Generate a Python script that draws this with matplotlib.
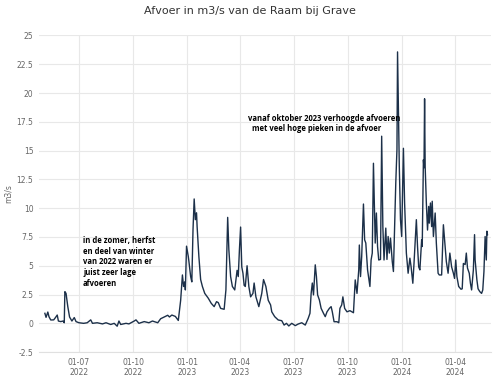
import pandas as pd
import matplotlib
matplotlib.use("Agg")
from matplotlib import pyplot as plt
import matplotlib.dates as mdates

# afvoer van de Raam bij Grave (m3/s)
datums = [
    "2022-05-04", "2022-05-06", "2022-05-09", "2022-05-11", "2022-05-14", "2022-05-19",
    "2022-05-22", "2022-05-25", "2022-05-27", "2022-05-31", "2022-06-04", "2022-06-06",
    "2022-06-07", "2022-06-09", "2022-06-12", "2022-06-15", "2022-06-19", "2022-06-23",
    "2022-06-26", "2022-07-01", "2022-07-09", "2022-07-15", "2022-07-21", "2022-07-24",
    "2022-08-01", "2022-08-10", "2022-08-16", "2022-08-24", "2022-08-30", "2022-09-04",
    "2022-09-07", "2022-09-10", "2022-09-19", "2022-09-24", "2022-10-03", "2022-10-06",
    "2022-10-11", "2022-10-20", "2022-10-28", "2022-11-03", "2022-11-12", "2022-11-17",
    "2022-11-23", "2022-11-29", "2022-12-02", "2022-12-06", "2022-12-12", "2022-12-17",
    "2022-12-21", "2022-12-24", "2022-12-26", "2022-12-28", "2022-12-29", "2022-12-31",
    "2023-01-03", "2023-01-04", "2023-01-07", "2023-01-09", "2023-01-11", "2023-01-13",
    "2023-01-15", "2023-01-17", "2023-01-18", "2023-01-21", "2023-01-24", "2023-01-27",
    "2023-01-31", "2023-02-06", "2023-02-11", "2023-02-16", "2023-02-20", "2023-02-23",
    "2023-02-27", "2023-03-05", "2023-03-08", "2023-03-11", "2023-03-13", "2023-03-16",
    "2023-03-19", "2023-03-23", "2023-03-27", "2023-03-29", "2023-03-31", "2023-04-02",
    "2023-04-04", "2023-04-06", "2023-04-08", "2023-04-10", "2023-04-13", "2023-04-16",
    "2023-04-19", "2023-04-23", "2023-04-25", "2023-04-28", "2023-05-03", "2023-05-08",
    "2023-05-11", "2023-05-15", "2023-05-19", "2023-05-23", "2023-05-25", "2023-05-30",
    "2023-06-05", "2023-06-11", "2023-06-15", "2023-06-19", "2023-06-23", "2023-06-28",
    "2023-07-04", "2023-07-09", "2023-07-15", "2023-07-21", "2023-07-26", "2023-07-29",
    "2023-07-31", "2023-08-02", "2023-08-04", "2023-08-07", "2023-08-09", "2023-08-11",
    "2023-08-14", "2023-08-17", "2023-08-21", "2023-08-24", "2023-08-27", "2023-08-31",
    "2023-09-03", "2023-09-05", "2023-09-08", "2023-09-13", "2023-09-16", "2023-09-18",
    "2023-09-21", "2023-09-23", "2023-09-26", "2023-09-30", "2023-10-05", "2023-10-11",
    "2023-10-14", "2023-10-17", "2023-10-20", "2023-10-21", "2023-10-23", "2023-10-25",
    "2023-10-28", "2023-10-30", "2023-11-01", "2023-11-04", "2023-11-08", "2023-11-10",
    "2023-11-12", "2023-11-14", "2023-11-17", "2023-11-19", "2023-11-21", "2023-11-23",
    "2023-11-26", "2023-11-28", "2023-11-30", "2023-12-02", "2023-12-05", "2023-12-07",
    "2023-12-09", "2023-12-11", "2023-12-13", "2023-12-16", "2023-12-18", "2023-12-20",
    "2023-12-22", "2023-12-24", "2023-12-25", "2023-12-28", "2023-12-30", "2024-01-01",
    "2024-01-04", "2024-01-06", "2024-01-09", "2024-01-12", "2024-01-15", "2024-01-17",
    "2024-01-20", "2024-01-22", "2024-01-26", "2024-01-28", "2024-01-30", "2024-02-01",
    "2024-02-04", "2024-02-05", "2024-02-07", "2024-02-08", "2024-02-09", "2024-02-10",
    "2024-02-12", "2024-02-14", "2024-02-16", "2024-02-17", "2024-02-19", "2024-02-21",
    "2024-02-22", "2024-02-24", "2024-02-27", "2024-02-29", "2024-03-03", "2024-03-05",
    "2024-03-09", "2024-03-12", "2024-03-14", "2024-03-17", "2024-03-20", "2024-03-23",
    "2024-03-26", "2024-03-29", "2024-03-31", "2024-04-02", "2024-04-04", "2024-04-07",
    "2024-04-11", "2024-04-13", "2024-04-15", "2024-04-18", "2024-04-20", "2024-04-22",
    "2024-04-25", "2024-04-27", "2024-04-29", "2024-05-02", "2024-05-04", "2024-05-05",
    "2024-05-08", "2024-05-10", "2024-05-13", "2024-05-16", "2024-05-18", "2024-05-20",
    "2024-05-22", "2024-05-24", "2024-05-25", "2024-05-26",
]
afvoer = [
    0.87, 0.52, 0.98, 0.57, 0.29, 0.30,
    0.50, 0.72, 0.20, 0.15, 0.20, 0.05,
    2.75, 2.60, 1.45, 0.55, 0.20, 0.50,
    0.15, 0.05, 0.00, 0.05, 0.30, 0.00,
    0.05, -0.05, 0.05, -0.10, 0.00, -0.25,
    0.20, -0.10, 0.00, -0.05, 0.20, 0.30,
    0.00, 0.15, 0.05, 0.20, 0.05, 0.40,
    0.55, 0.70, 0.55, 0.72, 0.60, 0.25,
    2.00, 4.20, 3.20, 3.60, 2.90, 6.70,
    5.80, 5.40, 4.06, 3.60, 8.10, 10.80,
    9.00, 9.60, 8.40, 5.80, 3.80, 3.20,
    2.60, 2.18, 1.74, 1.45, 1.88, 1.80,
    1.30, 1.22, 2.90, 9.20, 6.40, 4.06,
    3.20, 2.90, 4.60, 4.06, 6.40, 8.36,
    4.90, 4.35, 3.30, 3.20, 5.00, 3.20,
    2.30, 2.60, 3.50, 2.30, 1.45, 2.60,
    3.80, 3.20, 2.00, 1.60, 1.00, 0.58,
    0.29, 0.23, -0.15, 0.00, -0.23, 0.00,
    -0.20, -0.06, 0.05, -0.15, 0.43, 0.87,
    2.60, 3.50, 2.47, 5.08, 4.06, 2.47,
    2.03, 1.30, 0.87, 0.58, 1.00, 1.30,
    1.45, 1.00, 0.14, 0.14, 0.05, 1.30,
    1.60, 2.30, 1.30, 1.00, 1.10, 0.92,
    3.77, 2.60, 4.64, 6.80, 4.06, 5.80,
    10.36, 7.25, 6.97, 4.64, 3.20, 5.50,
    6.10, 13.90, 6.97, 9.58, 6.67, 5.50,
    5.55, 16.25, 8.40, 5.50, 8.27, 5.55,
    7.54, 6.10, 7.40, 5.37, 4.50, 8.40,
    12.20, 15.10, 23.57, 13.60, 9.00, 7.54,
    15.20, 10.45, 6.10, 4.35, 5.66, 4.94,
    3.48, 5.20, 9.00, 6.67, 4.90, 4.64,
    7.25, 6.67, 14.20, 13.50, 19.50, 13.60,
    10.45, 8.10, 10.15, 8.70, 10.45, 8.40,
    10.60, 7.54, 9.58, 6.97, 4.35, 4.20,
    4.20, 8.56, 7.25, 5.37, 4.35, 6.10,
    4.90, 4.35, 3.90, 5.50, 4.06, 3.20,
    2.96, 3.00, 5.20, 5.10, 6.10, 4.80,
    4.35, 3.48, 2.90, 4.64, 7.70, 5.50,
    3.77, 3.00, 2.75, 2.60, 2.90, 4.50,
    7.54, 5.50, 8.00, 7.70,
]

df = pd.DataFrame({"datum": pd.to_datetime(datums), "afvoer": afvoer})

tekst_laag = "in de zomer, herfst\nen deel van winter\nvan 2022 waren er\njuist zeer lage\nafvoeren"
tekst_hoog = "vanaf oktober 2023 verhoogde afvoeren\n  met veel hoge pieken in de afvoer"

grijs = "#666666"

fig = plt.figure(figsize=(5, 3.77), dpi=100)
ax = fig.add_axes([0.078, 0.066, 0.904, 0.840])

ax.plot(df.datum, df.afvoer, color="#1c3049", linewidth=1.0)

ax.set_ylim(-2.5, 25)
ax.set_yticks([-2.5, 0, 2.5, 5, 7.5, 10, 12.5, 15, 17.5, 20, 22.5, 25])
ax.set_yticklabels(["-2.5", "0", "2.5", "5", "7.5", "10", "12.5", "15", "17.5", "20", "22.5", "25"])
ax.set_xlim(pd.Timestamp("2022-04-24"), pd.Timestamp("2024-06-01"))
ax.xaxis.set_major_locator(mdates.MonthLocator(bymonth=[1, 4, 7, 10]))
ax.xaxis.set_major_formatter(mdates.DateFormatter("%d-%m\n%Y"))

ax.tick_params(axis="both", length=0, labelsize=5.5, labelcolor=grijs, pad=4)
ax.grid(True, color="#e8e8e8", linewidth=0.8)
for s in ax.spines.values():
    s.set_visible(False)
ax.spines["bottom"].set_visible(True)
ax.spines["bottom"].set_color("#e0e0e0")

ax.set_ylabel("m3/s", fontsize=5.5, color=grijs)
ax.yaxis.set_label_coords(-0.058, 0.5)
fig.suptitle("Afvoer in m3/s van de Raam bij Grave", fontsize=8, color="#333333", y=0.985)

ax.text(pd.Timestamp("2022-07-08"), 7.6, tekst_laag, fontsize=5.5, fontweight="bold",
        va="top", ha="left", linespacing=1.25, family="Open Sans")
ax.text(pd.Timestamp("2023-04-15"), 18.2, tekst_hoog, fontsize=5.5, fontweight="bold",
        va="top", ha="left", linespacing=1.25, family="Open Sans")

fig.savefig("out.png", dpi=100)
